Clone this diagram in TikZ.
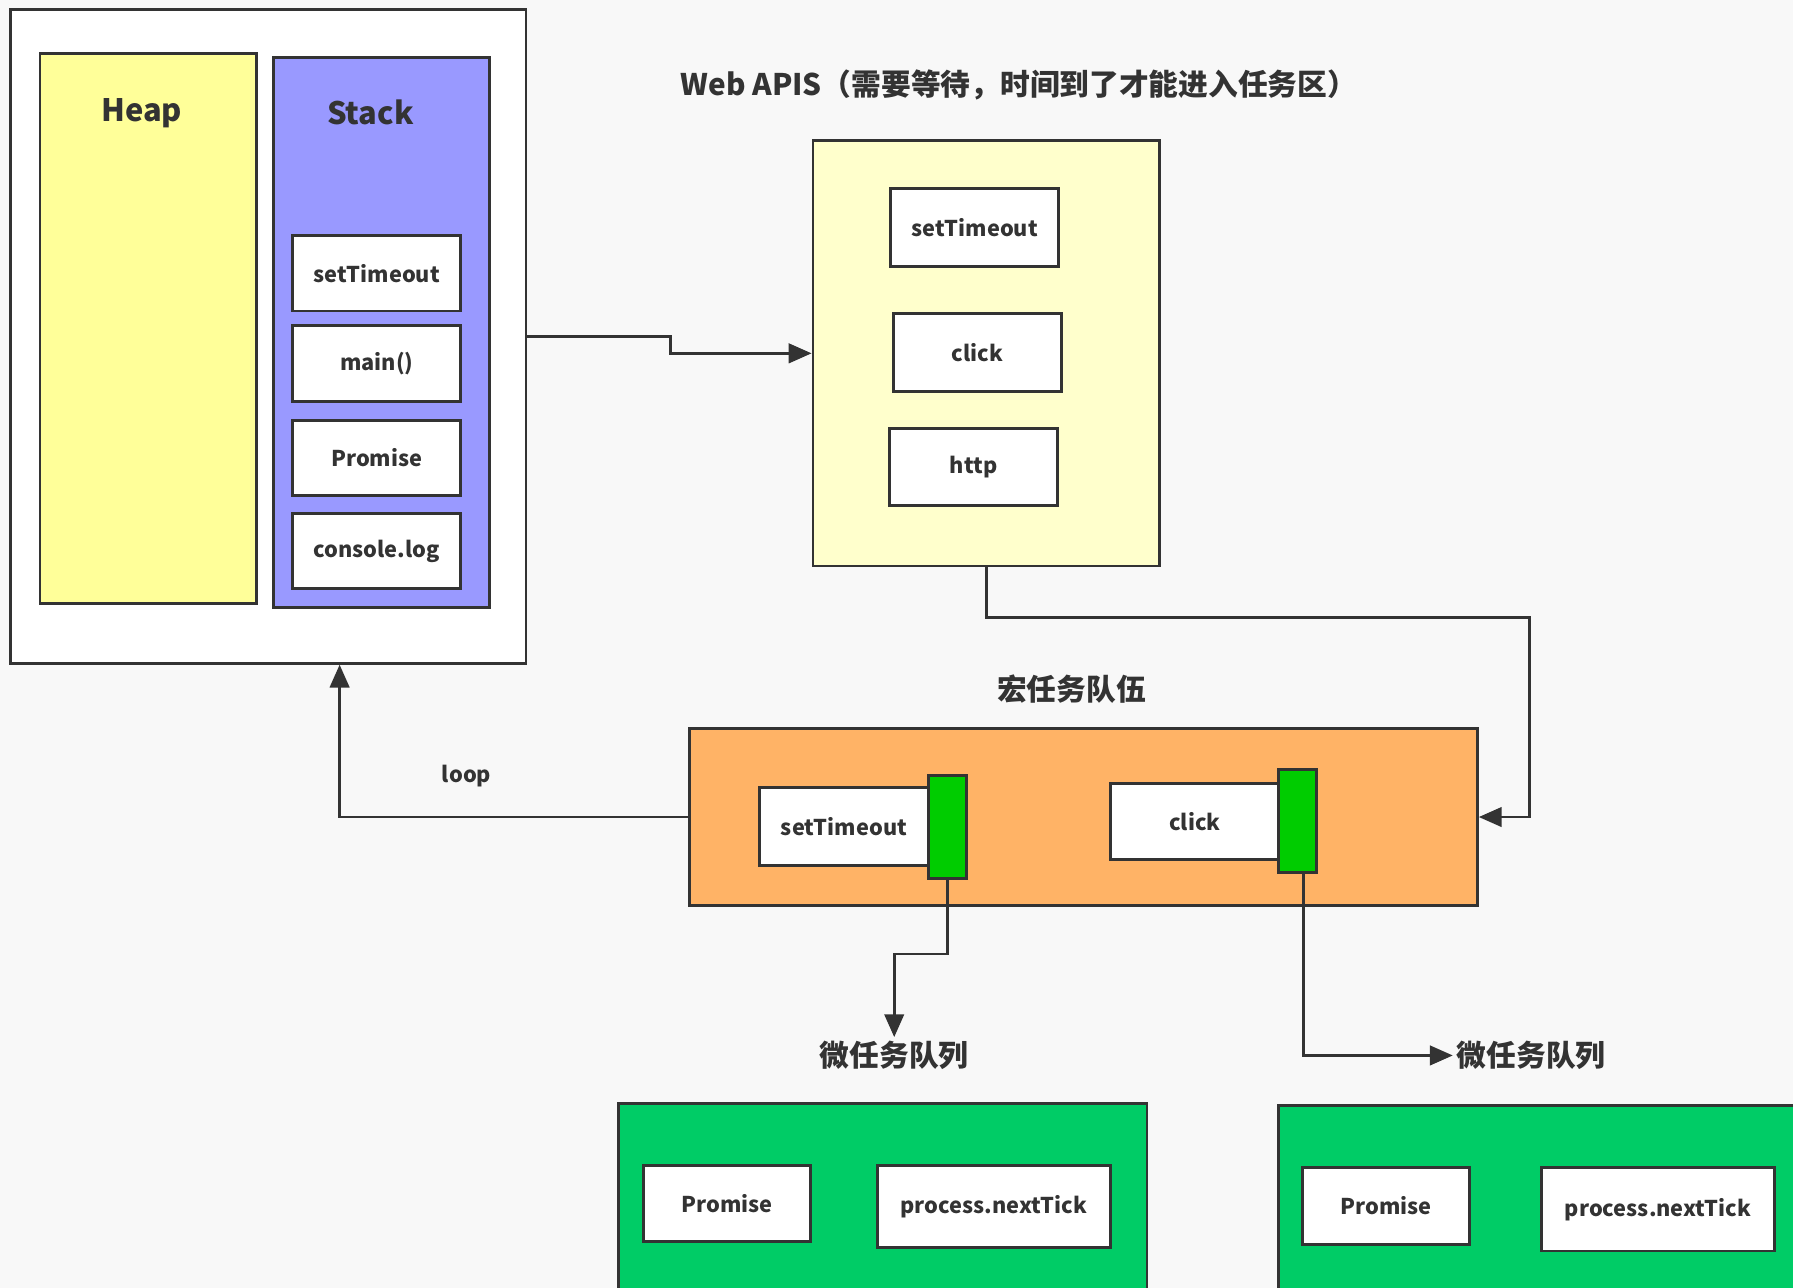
\documentclass[tikz,border=0pt]{standalone}
\usepackage{fontspec}
\setmainfont{Noto Sans CJK SC}
\usetikzlibrary{arrows.meta}

\definecolor{bggray}{HTML}{F8F8F8}
\definecolor{edge}{HTML}{333333}
\definecolor{heapyellow}{HTML}{FFFF99}
\definecolor{stackblue}{HTML}{9999FF}
\definecolor{apiyellow}{HTML}{FFFFCC}
\definecolor{macroorange}{HTML}{FFB366}
\definecolor{tabgreen}{HTML}{00CC00}
\definecolor{microgreen}{HTML}{00CC66}

\tikzset{
  box/.style={draw=edge, line width=2.5pt, inner sep=0pt},
  item/.style={box, fill=white, font=\fontsize{19}{23}\selectfont\bfseries, text=edge},
  tab/.style={box, fill=tabgreen, minimum width=33pt, minimum height=90pt},
  title/.style={font=\fontsize{26}{30}\selectfont\bfseries, text=edge},
  arr/.style={draw=edge, line width=2.5pt, -{Triangle[length=20pt,width=17pt]}}
}

\begin{document}
\begin{tikzpicture}[x=1pt, y=-1pt]
\clip (0,0) rectangle (1568,1126);
\fill[bggray] (0,0) rectangle (1568,1126);

% heap and stack
\node[box, fill=white, minimum width=451pt, minimum height=572pt] (outer) at (234.5,294) {};
\node[box, fill=heapyellow, minimum width=189pt, minimum height=481pt] (heap) at (129.5,287.5) {};
\node[box, fill=stackblue, minimum width=189pt, minimum height=481pt] (stack) at (333.5,290.5) {};
\node[title, font=\fontsize{27}{31}\selectfont\bfseries] (heaplabel) at (124,99) {Heap};
\node[title, font=\fontsize{27}{31}\selectfont\bfseries] (stacklabel) at (324,98) {Stack};
\node[item, minimum width=147pt, minimum height=66pt] (s1) at (329.5,239) {setTimeout};
\node[item, minimum width=147pt, minimum height=66pt] (s2) at (329.5,318) {main()};
\node[item, minimum width=147pt, minimum height=66pt] (s3) at (329.5,400.5) {Promise};
\node[item, minimum width=147pt, minimum height=66pt] (s4) at (329.5,482) {console.log};

% web apis
\node[title] (apilabel) at (891,74) {Web APIS（需要等待，时间到了才能进入任务区）};
\node[box, fill=apiyellow, minimum width=303pt, minimum height=372pt] (api) at (862.5,309) {};
\node[item, minimum width=147pt, minimum height=68pt] (a1) at (852.5,199) {setTimeout};
\node[item, minimum width=147pt, minimum height=68pt] (a2) at (854.5,308) {click};
\node[item, minimum width=147pt, minimum height=67pt] (a3) at (851.5,408.5) {http};

% macro task queue
\node[title] (macrolabel) at (937,603) {宏任务队伍};
\node[box, fill=macroorange, minimum width=689pt, minimum height=155pt] (macro) at (947.5,714.5) {};
\node[item, minimum width=148pt, minimum height=68pt] (m1) at (738,723) {setTimeout};
\node[tab] (tab1) at (828.5,723) {};
\node[item, minimum width=148pt, minimum height=67pt] (m2) at (1045,718.5) {click};
\node[tab] (tab2) at (1134.5,718) {};
\node[item, draw=none, fill=none] (looplabel) at (408,679) {loop};

% micro task queues
\node[title] (micro1label) at (782,923) {微任务队列};
\node[title] (micro2label) at (1339,923) {微任务队列};
\node[box, fill=microgreen, minimum width=462pt, minimum height=175pt] (micro1) at (772,1052.5) {};
\node[box, fill=microgreen, minimum width=472pt, minimum height=173pt] (micro2) at (1354,1053.5) {};
\node[item, minimum width=146pt, minimum height=67pt] (p1) at (636,1052.5) {Promise};
\node[item, minimum width=204pt, minimum height=72pt] (n1) at (869,1055) {process.nextTick};
\node[item, minimum width=146pt, minimum height=67pt] (p2) at (1212,1054.5) {Promise};
\node[item, minimum width=204pt, minimum height=73pt] (n2) at (1450,1057.5) {process.nextTick};

% connectors
\draw[arr] (outer.east) -- ++(125,0) |- (api.west);
\draw[arr] (api.south) -- ++(0,44) -| ([xshift=44pt]macro.east) -- (macro.east);
\draw[arr] (macro.west) -| ([xshift=62.5pt]outer.south);
\draw[arr] (tab1.south) -- ++(0,65) -| (micro1label.north);
\draw[arr] ([xshift=5.5pt]tab2.south) |- (micro2label.west);
\end{tikzpicture}
\end{document}
